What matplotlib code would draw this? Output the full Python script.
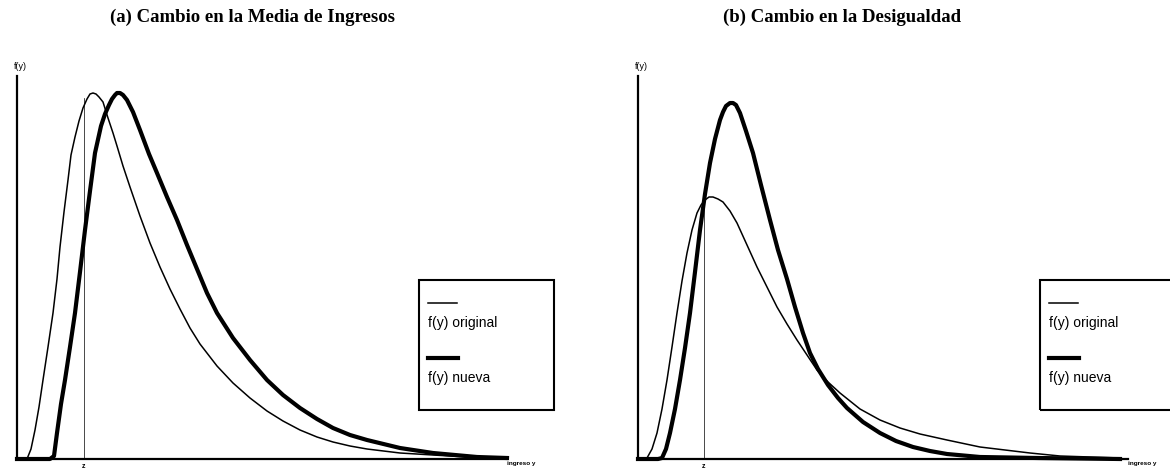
import matplotlib
matplotlib.use("Agg")
import matplotlib.pyplot as plt
from matplotlib.patches import Rectangle

# --- densities, read as (income, density) pairs ---
# panel (a): shift in mean income
a_orig_x = [0, 10, 14, 18, 22, 26, 31, 36, 40, 43, 47, 51, 54, 58, 62, 66, 70, 73, 76, 79, 82, 86, 91,
            96, 100, 106, 113, 123, 133, 143, 153, 163, 173, 183, 200, 216, 233, 250, 266, 283, 300,
            316, 333, 350, 383, 416, 450, 490]
a_orig_y = [0, 0, 10, 29, 52, 79, 112, 146, 180, 212, 247, 279, 304, 322, 338, 351, 360, 365, 366, 365,
            362, 357, 341, 326, 313, 293, 272, 243, 216, 192, 170, 150, 131, 115, 93, 76, 61, 48, 38,
            29, 22, 17, 13, 10, 6, 4, 2, 1]
a_new_x = [0, 33, 37, 40, 44, 48, 53, 58, 63, 68, 73, 78, 84, 88, 92, 95, 98, 100, 103, 106, 110, 116,
           123, 132, 140, 150, 160, 170, 180, 190, 200, 216, 233, 250, 266, 283, 300, 316, 333, 350,
           383, 416, 460, 490]
a_new_y = [0, 0, 3, 26, 55, 79, 112, 146, 187, 229, 268, 306, 333, 345, 354, 360, 364, 366, 366, 364,
           359, 347, 329, 305, 286, 262, 239, 214, 190, 166, 146, 121, 99, 79, 64, 51, 40, 31, 24, 19,
           11, 6, 2, 1]

# panel (b): change in inequality
b_orig_x = [0, 5, 9, 14, 19, 24, 29, 34, 39, 44, 49, 54, 59, 63, 67, 71, 75, 80, 85, 92, 99, 109, 119,
            129, 139, 149, 159, 169, 179, 190, 202, 222, 242, 262, 282, 309, 342, 392, 422, 482]
b_orig_y = [0, 0, 1, 10, 26, 50, 79, 112, 146, 178, 206, 229, 246, 254, 259, 262, 262, 260, 257, 248,
            236, 214, 192, 172, 152, 135, 119, 104, 89, 77, 66, 50, 39, 31, 25, 19, 12, 6, 3, 1]
b_new_x = [0, 20, 24, 28, 32, 37, 42, 47, 52, 57, 62, 67, 72, 77, 82, 85, 88, 92, 95, 98, 102, 108,
           115, 123, 132, 140, 149, 157, 165, 172, 180, 190, 200, 209, 225, 242, 258, 275, 292, 309,
           342, 400, 482]
b_new_y = [0, 0, 1, 10, 26, 50, 79, 111, 146, 187, 229, 265, 296, 320, 339, 347, 353, 356, 356, 354,
           346, 328, 306, 274, 239, 209, 180, 152, 126, 106, 90, 74, 61, 51, 37, 26, 18, 12, 8, 5, 2,
           1, 0]

# poverty line z and the height where its marker stops
z_pos = [67, 66]
z_top = [361, 259]

titles = ["(a) Cambio en la Media de Ingresos", "(b) Cambio en la Desigualdad"]
legend_labels = ["f(y) original", "f(y) nueva"]

W, H = 490, 383
fig = plt.figure(figsize=(11.7, 4.71), dpi=100)

panels = [
    (17, a_orig_x, a_orig_y, a_new_x, a_new_y),
    (638, b_orig_x, b_orig_y, b_new_x, b_new_y),
]

for i, (left_px, ox, oy, nx, ny) in enumerate(panels):
    ax = fig.add_axes([left_px / 1170, 12 / 471, W / 1170, H / 471])
    ax.set_xlim(0, W)
    ax.set_ylim(0, H)
    for s in ["top", "right"]:
        ax.spines[s].set_visible(False)
    for s in ["left", "bottom"]:
        ax.spines[s].set_linewidth(1.6)
    ax.set_xticks([])
    ax.set_yticks([])
    ax.patch.set_alpha(0)

    ax.plot(ox, oy, color="black", lw=1.1, solid_joinstyle="round", clip_on=False)
    ax.plot(nx, ny, color="black", lw=3.0, solid_joinstyle="round", clip_on=False)
    ax.plot([z_pos[i], z_pos[i]], [0, z_top[i]], color="black", lw=0.5)

    ax.text(z_pos[i], -4, "z", fontsize=5, fontweight="bold", ha="center", va="top",
            family="Liberation Sans", clip_on=False)
    ax.text(3, H + 5, "f(y)", fontsize=6.5, ha="center", va="bottom",
            family="Liberation Sans", clip_on=False)
    ax.text(490, -2, "ingreso y", fontsize=4.6, fontweight="bold", ha="left", va="top",
            family="Liberation Sans", clip_on=False)

    # legend box: sample line above each label
    ax.add_patch(Rectangle((402, 49), 135, 130, fill=False, lw=1.5, ec="black", clip_on=False))
    ax.plot([411, 440], [156, 156], color="black", lw=1.1, clip_on=False)
    ax.text(411, 136, legend_labels[0], fontsize=10, va="center", ha="left",
            family="Liberation Sans", clip_on=False)
    ax.plot([411, 441], [101, 101], color="black", lw=3.0, clip_on=False)
    ax.text(411, 81, legend_labels[1], fontsize=10, va="center", ha="left",
            family="Liberation Sans", clip_on=False)

fig.text(253 / 1170, 1 - 17 / 471, titles[0], fontsize=13.5, fontweight="bold",
         family="Liberation Serif", ha="center", va="center")
fig.text(842 / 1170, 1 - 17 / 471, titles[1], fontsize=13.5, fontweight="bold",
         family="Liberation Serif", ha="center", va="center")

fig.savefig("out.png", dpi=100)
